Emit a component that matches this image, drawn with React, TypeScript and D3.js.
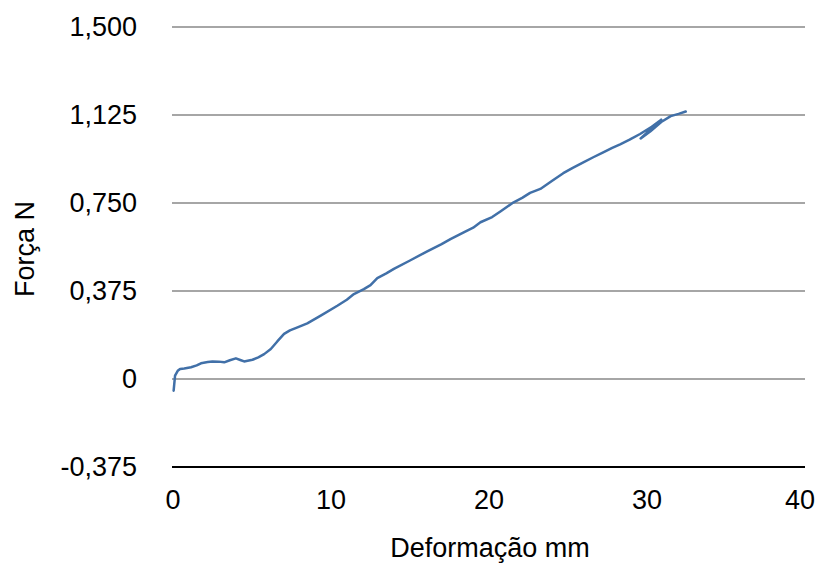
import React from "react";
import * as d3 from "d3";

const deformacao = [0.04, 0.13, 0.3, 0.45, 0.71, 1.14, 1.5, 1.77, 2.2, 2.5, 2.9, 3.24, 3.6, 3.98, 4.3, 4.5, 5.03, 5.4, 5.77, 6.19, 6.6, 7.03, 7.4, 7.88, 8.5, 9.35, 10.4, 11.0, 11.45, 12.08, 12.5, 12.93, 13.5, 13.98, 15.0, 16.09, 17.0, 17.56, 18.4, 19.0, 19.46, 20.2, 20.72, 21.56, 22.1, 22.6, 23.25, 24.0, 24.7, 25.3, 25.97, 26.6, 27.23, 27.8, 28.3, 28.9, 29.56, 30.3, 30.9, 29.6, 30.2, 30.9, 31.5, 32.0, 32.45];
const forca = [-0.05, 0.014, 0.035, 0.043, 0.045, 0.05, 0.058, 0.067, 0.072, 0.075, 0.074, 0.071, 0.08, 0.088, 0.08, 0.075, 0.082, 0.092, 0.106, 0.128, 0.16, 0.192, 0.207, 0.22, 0.237, 0.27, 0.312, 0.338, 0.362, 0.383, 0.4, 0.43, 0.45, 0.469, 0.505, 0.544, 0.575, 0.596, 0.625, 0.645, 0.668, 0.69, 0.714, 0.753, 0.772, 0.793, 0.81, 0.845, 0.877, 0.9, 0.923, 0.945, 0.966, 0.985, 1.0, 1.02, 1.044, 1.075, 1.105, 1.025, 1.055, 1.095, 1.12, 1.13, 1.14];

const yTicks = [-0.375, 0, 0.375, 0.75, 1.125, 1.5];
const yTickLabels = ["-0,375", "0", "0,375", "0,750", "1,125", "1,500"];
const xTicks = [0, 10, 20, 30, 40];
const xTitle = "Deformação mm";
const yTitle = "Força N";

export default function App() {
  const W = 822, H = 565;
  const x = d3.scaleLinear().domain([0, 40]).range([173, 805]);
  const y = d3.scaleLinear().domain([-0.375, 1.5]).range([467, 27]);
  const pts = deformacao.map((d, i) => [d, forca[i]] as [number, number]);
  const line = d3.line<[number, number]>().x(d => x(d[0])).y(d => y(d[1]));
  const font = "'Liberation Sans', Arial, Helvetica, sans-serif";
  return (
    <svg width={W} height={H} style={{ position: "absolute", left: 0, top: 0 }} fontFamily={font}>
      <rect width={W} height={H} fill="#fff" />
      {yTicks.map((t, i) => (
        <g key={t}>
          <line x1={172} x2={805} y1={y(t)} y2={y(t)}
            stroke={t === -0.375 ? "#000" : "#a6a6a6"} strokeWidth={2} />
          <text x={137} y={y(t)} dy="0.35em" textAnchor="end" fontSize={27} fill="#000">{yTickLabels[i]}</text>
        </g>
      ))}
      {xTicks.map(t => (
        <text key={t} x={t === 40 ? x(t) - 5 : x(t)} y={509} textAnchor="middle" fontSize={27} fill="#000">{t}</text>
      ))}
      <path d={line(pts) || ""} fill="none" stroke="#4170a8" strokeWidth={2.5} strokeLinejoin="round" strokeLinecap="round" />
      <text x={490} y={557} textAnchor="middle" fontSize={27} fill="#000">{xTitle}</text>
      <text transform={`translate(34,249) rotate(-90)`} textAnchor="middle" fontSize={27} fill="#000">{yTitle}</text>
    </svg>
  );
}
